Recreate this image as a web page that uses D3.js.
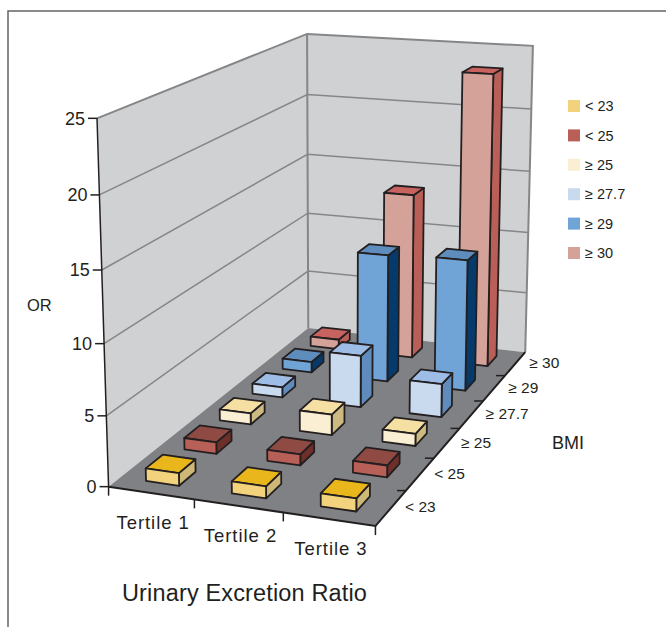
<!DOCTYPE html>
<html><head><meta charset="utf-8">
<script src="https://cdn.jsdelivr.net/npm/d3@7"></script>
<style>
html,body{margin:0;padding:0;background:#fff;overflow:hidden}
text{font-family:"Liberation Sans",Arial,sans-serif;fill:#231f20}
</style></head><body><svg id="c" width="666" height="627"></svg>
<script>
const tertiles = ["Tertile 1","Tertile 2","Tertile 3"];
const bmiLevels = ["< 23","< 25","≥ 25","≥ 27.7","≥ 29","≥ 30"];
const tertile1 = [0.9,0.85,0.85,0.8,0.85,0.8];
const tertile2 = [0.85,0.8,1.55,4.0,10.1,13.4];
const tertile3 = [0.9,0.85,0.9,2.55,10.3,23.4];
const yTicks = [0,5,10,15,20,25];
const faceColors = ["#f2d27c","#b85f58","#faefd2","#c9daef","#70a3d6","#d4a299"];
const topColors  = ["#e9b71c","#8f4a44","#f6dfa2","#9dbde6","#5e8cbc","#c8625f"];
const sideColors = ["#cdb877","#6e2f2b","#cdba80","#5f8cbd","#053a6b","#b95f58"];

const svg = d3.select("#c");
const ink = "#231f20", edge = "#858688";

const anchors = [
 [0,0,0,109,487],[1,0,0,375,526],[1,1,0,525.5,352],[0,1,0,308,328],
 [0,0,1,97,118],[0,1,1,307,34],[1,1,1,533,46]
];
function fitCamera(a){
  const rows=[],rhs=[];
  a.forEach(([x,y,z,X,Y])=>{
    rows.push([x,y,z,1,0,0,0,0,-X*x,-X*y,-X*z]);rhs.push(X);
    rows.push([0,0,0,0,x,y,z,1,-Y*x,-Y*y,-Y*z]);rhs.push(Y);
  });
  const n=11,M=d3.range(n).map(i=>d3.range(n+1).map(j=>{
    let s=0;rows.forEach((r,k)=>{s+=r[i]*(j<n?r[j]:rhs[k]);});return s;}));
  for(let c=0;c<n;c++){
    let p=c;for(let r=c+1;r<n;r++)if(Math.abs(M[r][c])>Math.abs(M[p][c]))p=r;
    [M[c],M[p]]=[M[p],M[c]];
    for(let r=0;r<n;r++)if(r!==c){const f=M[r][c]/M[c][c];for(let k=c;k<=n;k++)M[r][k]-=f*M[c][k];}
  }
  return d3.range(n).map(i=>M[i][n]/M[i][i]);
}
const P=fitCamera(anchors);
const project=(x,y,z)=>{const w=P[8]*x+P[9]*y+P[10]*z+1;
  return [(P[0]*x+P[1]*y+P[2]*z+P[3])/w,(P[4]*x+P[5]*y+P[6]*z+P[7])/w];};

const xS=d3.scaleBand().domain(tertiles).range([0,1]).paddingInner(0.61).paddingOuter(0.305);
const yS=d3.scaleBand().domain(bmiLevels).range([0,1]).paddingInner(0.57).paddingOuter(0.285);
const zS=d3.scaleLinear().domain([0,25]).range([0,1]);
const poly=d3.line();
const closed=pts=>poly(pts)+"Z";

svg.append("path").attr("d","M8,627V11H666").attr("fill","none").attr("stroke","#636466").attr("stroke-width",1.5);

svg.append("path").attr("d",closed([project(0,0,0),project(0,1,0),project(0,1,1),project(0,0,1)])).attr("fill","#d0d1d3");
svg.append("path").attr("d",closed([project(0,1,0),project(1,1,0),project(1,1,1),project(0,1,1)])).attr("fill","#d0d1d3");
svg.append("path").attr("d",closed([project(0,0,0),project(1,0,0),project(1,1,0),project(0,1,0)])).attr("fill","#808184");

yTicks.slice(1,-1).forEach(t=>{
  svg.append("path").attr("d",poly([project(0,0,zS(t)),project(0,1,zS(t)),project(1,1,zS(t))]))
    .attr("fill","none").attr("stroke",edge).attr("stroke-width",1.5);
});
svg.append("path").attr("d",poly([project(0,0,1),project(0,1,1),project(1,1,1),project(1,1,0)]))
  .attr("fill","none").attr("stroke",edge).attr("stroke-width",2);
svg.append("path").attr("d",poly([project(0,1,1),project(0,1,0)])).attr("fill","none").attr("stroke",edge).attr("stroke-width",2);

const table=[tertile1,tertile2,tertile3];
d3.range(bmiLevels.length-1,-1,-1).forEach(j=>{
  tertiles.forEach((t,i)=>{
    const x0=xS(t),x1=x0+xS.bandwidth(),y0=yS(bmiLevels[j]),y1=y0+yS.bandwidth(),z=zS(table[i][j]);
    const g=svg.append("g").attr("stroke",ink).attr("stroke-width",1.8).attr("stroke-linejoin","round");
    g.append("path").attr("d",closed([project(x1,y0,0),project(x1,y1,0),project(x1,y1,z),project(x1,y0,z)])).attr("fill",sideColors[j]);
    g.append("path").attr("d",closed([project(x0,y0,z),project(x1,y0,z),project(x1,y1,z),project(x0,y1,z)])).attr("fill",topColors[j]);
    g.append("path").attr("d",closed([project(x0,y0,0),project(x1,y0,0),project(x1,y0,z),project(x0,y0,z)])).attr("fill",faceColors[j]);
  });
});

const axisLine=pts=>svg.append("path").attr("d",poly(pts)).attr("fill","none").attr("stroke",ink);
axisLine([project(0,0,1),project(0,0,0)]).attr("stroke-width",1.5);
axisLine([project(0,0,0),project(1,0,0),project(1,1,0)]).attr("stroke-width",2);

yTicks.forEach(t=>{
  const [px,py]=project(0,0,zS(t));
  axisLine([[px-9,py],[px,py]]).attr("stroke-width",1.5);
  svg.append("text").attr("x",px-12).attr("y",py).attr("dy","0.36em").attr("text-anchor","end")
    .attr("font-size",18).text(t);
});
d3.range(tertiles.length+1).forEach(k=>{
  const [px,py]=project(k/tertiles.length,0,0);
  axisLine([[px,py],[px,py+9]]).attr("stroke-width",1.5);
});
tertiles.forEach(t=>{
  const [px,py]=project(xS(t)+xS.bandwidth()/2,0,0);
  svg.append("text").attr("x",px+2).attr("y",py+36).attr("text-anchor","middle")
    .attr("font-size",18.5).attr("letter-spacing",0.95).text(t);
});
d3.range(1,bmiLevels.length).forEach(k=>{
  const [px,py]=project(1,k/bmiLevels.length,0);
  axisLine([[px-9,py],[px,py]]).attr("stroke-width",1.5);
});
bmiLevels.forEach(b=>{
  const [px,py]=project(1,yS(b)+yS.bandwidth()/2,0);
  svg.append("text").attr("x",px+14).attr("y",py-1).attr("dy","0.36em")
    .attr("font-size",15.5).text(b);
});

svg.append("text").attr("x",27).attr("y",311).attr("font-size",16.5).text("OR");
svg.append("text").attr("x",552).attr("y",449).attr("font-size",18).text("BMI");
svg.append("text").attr("x",122).attr("y",601).attr("font-size",23.5).attr("letter-spacing",0.15).text("Urinary Excretion Ratio");

const legendY=d3.scalePoint().domain(bmiLevels).range([106,253]);
bmiLevels.forEach((b,j)=>{
  svg.append("rect").attr("x",568).attr("y",legendY(b)-6).attr("width",12).attr("height",12).attr("fill",faceColors[j]);
  svg.append("text").attr("x",585).attr("y",legendY(b)).attr("dy","0.36em").attr("font-size",14.5).text(b);
});
</script></body></html>
